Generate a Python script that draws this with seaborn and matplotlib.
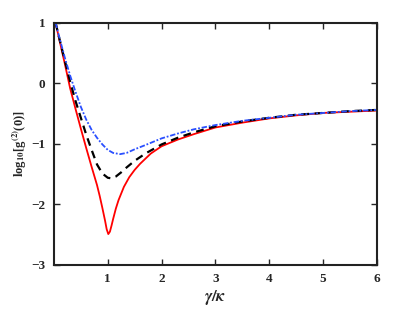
import numpy as np
import pandas as pd
import matplotlib
matplotlib.use("Agg")
import matplotlib.pyplot as plt
import seaborn as sns

# curve values (x = gamma/kappa, y = log10 g2(0))
red_x = [0.03, 0.1, 0.2, 0.3, 0.4, 0.5, 0.6, 0.7, 0.8, 0.85, 0.9, 0.95, 0.98, 1.01, 1.04,
         1.07, 1.1, 1.15, 1.2, 1.3, 1.4, 1.5, 1.6, 1.8, 2.0, 2.3, 2.6, 3.0, 3.5, 4.0,
         4.5, 5.0, 5.5, 6.0]
red_y = [1.0, 0.72, 0.33, -0.08, -0.42, -0.75, -1.07, -1.38, -1.68, -1.86, -2.06, -2.27,
         -2.41, -2.49, -2.45, -2.35, -2.24, -2.07, -1.93, -1.71, -1.55, -1.43, -1.33,
         -1.16, -1.04, -0.93, -0.84, -0.73, -0.65, -0.58, -0.53, -0.49, -0.47, -0.45]

black_x = [0.03, 0.1, 0.2, 0.3, 0.4, 0.5, 0.6, 0.7, 0.8, 0.9, 1.0, 1.07, 1.15, 1.25,
           1.35, 1.5, 1.7, 2.0, 2.3, 2.6, 3.0, 3.5, 4.0, 4.5, 5.0, 5.5, 6.0]
black_y = [1.0, 0.74, 0.38, 0.03, -0.29, -0.57, -0.85, -1.10, -1.34, -1.49, -1.56, -1.57,
           -1.54, -1.47, -1.39, -1.28, -1.16, -1.01, -0.90, -0.81, -0.71, -0.63, -0.57,
           -0.52, -0.49, -0.46, -0.44]

blue_x = [0.03, 0.1, 0.2, 0.3, 0.4, 0.5, 0.6, 0.7, 0.8, 0.9, 1.0, 1.1, 1.23, 1.35, 1.5,
          1.7, 2.0, 2.3, 2.6, 3.0, 3.5, 4.0, 4.5, 5.0, 5.5, 6.0]
blue_y = [1.0, 0.76, 0.43, 0.13, -0.14, -0.39, -0.60, -0.77, -0.90, -1.01, -1.10, -1.15,
          -1.17, -1.15, -1.09, -1.02, -0.91, -0.83, -0.76, -0.69, -0.62, -0.57, -0.52,
          -0.49, -0.46, -0.44]

x_ticks = [1, 2, 3, 4, 5, 6]
y_ticks = [-3, -2, -1, 0, 1]

sns.set_style("ticks")
plt.rcParams['font.family'] = ['Liberation Serif', 'DejaVu Serif']
plt.rcParams['mathtext.fontset'] = 'stix'

fig = plt.figure(figsize=(4.15, 3.11), dpi=100)
ax = fig.add_axes([0.130, 0.148, 0.778, 0.779])

sns.lineplot(x=red_x, y=red_y, ax=ax, color="#ff0000", lw=1.3)
sns.lineplot(x=black_x, y=black_y, ax=ax, color="black", lw=1.6, linestyle=(0, (3.5, 2.5)))
sns.lineplot(x=blue_x, y=blue_y, ax=ax, color="#2a4fff", lw=1.3, linestyle=(0, (3, 1, 1, 1)))

ax.set_xlim(0, 6)
ax.set_ylim(-3, 1)
ax.set_xticks(x_ticks)
ax.set_yticks(y_ticks)
ax.tick_params(direction="in", length=4, width=1, top=True, right=True,
               labelsize=9.5, pad=6)
for lab in ax.get_xticklabels() + ax.get_yticklabels():
    lab.set_fontweight("bold")
for s in ax.spines.values():
    s.set_linewidth(1.5)
    s.set_color("#222222")

ax.set_xlabel(r"$\boldsymbol{\gamma/\kappa}$", fontsize=12, labelpad=2)
ax.set_ylabel(r"log$_{\mathbf{10}}$[g$^{\mathbf{(2)}}$(0)]", fontsize=9, fontweight="bold",
              labelpad=2)

fig.savefig("out.png", dpi=100)
